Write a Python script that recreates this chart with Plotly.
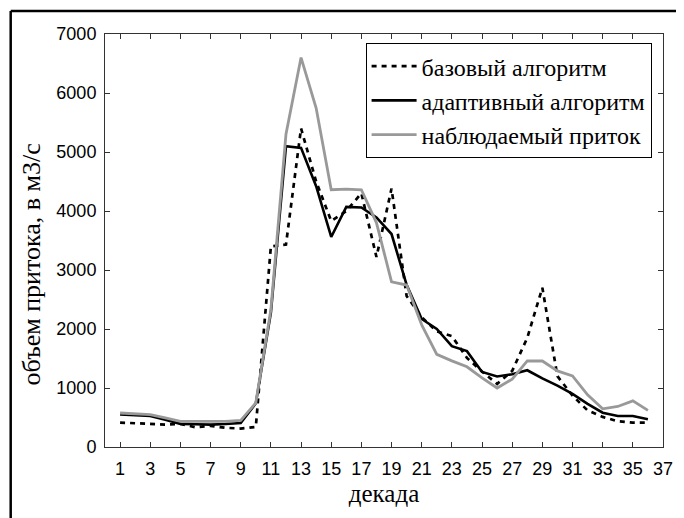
import plotly.graph_objects as go

decades = list(range(1, 37))

base_alg = [414, 406, 389, 380, 390, 335, 358, 325, 313, 340,
            3400, 3430, 5400, 4500, 3830, 4000, 4300, 3220, 4380, 2560,
            2200, 1960, 1880, 1510, 1280, 1070, 1290, 1850, 2700, 1200,
            870, 620, 510, 436, 413, 413]

adaptive_alg = [553, 540, 526, 460, 392, 385, 380, 390, 408, 740,
                2280, 5100, 5070, 4420, 3560, 4070, 4060, 3890, 3610, 2750,
                2170, 2000, 1710, 1625, 1273, 1195, 1234, 1301, 1162, 1039,
                899, 732, 581, 525, 525, 469]

observed = [576, 559, 548, 492, 436, 436, 436, 436, 452, 749,
            2330, 5300, 6600, 5744, 4360, 4370, 4360, 3800, 2800, 2745,
            2070, 1570, 1460, 1360, 1170, 1000, 1150, 1458, 1458, 1290,
            1206, 883, 648, 687, 782, 620]

x_ticks = list(range(1, 38, 2))
y_ticks = list(range(0, 7001, 1000))

SERIF = "Liberation Serif"
SANS = "Liberation Sans"

fig = go.Figure()
fig.add_trace(go.Scatter(x=decades, y=base_alg, mode="lines", name="базовый алгоритм",
                         line=dict(color="black", width=2.7, dash="5px,5px")))
fig.add_trace(go.Scatter(x=decades, y=adaptive_alg, mode="lines", name="адаптивный алгоритм",
                         line=dict(color="black", width=2.6)))
fig.add_trace(go.Scatter(x=decades, y=observed, mode="lines", name="наблюдаемый приток",
                         line=dict(color="#999999", width=2.8)))

axis_common = dict(showline=True, linecolor="#333333", linewidth=1, mirror="ticks",
                   ticks="inside", ticklen=5, tickcolor="#333333", showgrid=False,
                   zeroline=False,
                   tickfont=dict(family=SANS, size=18, color="black"))

fig.update_layout(
    width=676, height=510,
    margin=dict(l=97, r=11, t=26, b=71),
    paper_bgcolor="white", plot_bgcolor="white",
    font=dict(family=SERIF, color="black"),
    xaxis=dict(range=[0, 37], tickvals=x_ticks, ticklabelstandoff=5,
               title=dict(text="декада", font=dict(family=SERIF, size=25, color="black"),
                          standoff=6),
               **axis_common),
    yaxis=dict(range=[0, 7000], tickvals=y_ticks, ticklabelstandoff=4,
               **axis_common),
    legend=dict(x=0.467, y=0.978, xanchor="left", yanchor="top",
                bgcolor="white", bordercolor="black", borderwidth=1,
                font=dict(family=SERIF, size=24, color="black"),
                itemwidth=45, tracegroupgap=0),
    annotations=[
        dict(text="объем притока, в м3/с", xref="paper", yref="paper",
             x=-0.132, y=0.443, xanchor="center", yanchor="middle",
             textangle=-90, showarrow=False,
             font=dict(family=SERIF, size=26, color="black")),
    ],
    shapes=[
        dict(type="line", xref="paper", yref="paper", x0=-0.169, x1=1.1, y0=1.0557, y1=1.0557,
             line=dict(color="black", width=2.5)),
        dict(type="line", xref="paper", yref="paper", x0=-0.169, x1=-0.169, y0=1.0557, y1=-0.3,
             line=dict(color="black", width=2.5)),
    ],
)

fig.write_html("out.html")
